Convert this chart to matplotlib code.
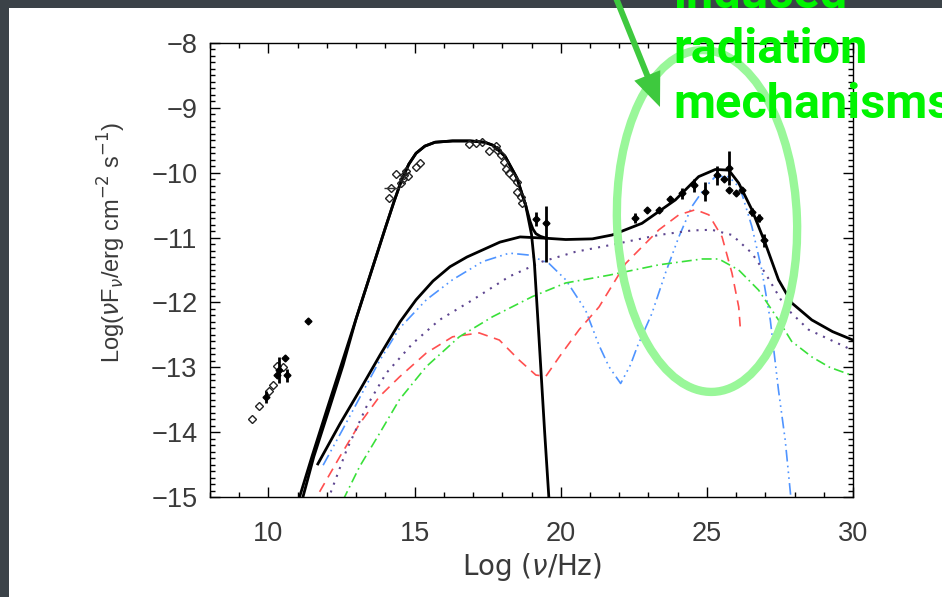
"""
SED plot with a highlighted high-energy bump (induced radiation mechanisms).
"""
import matplotlib
matplotlib.use("Agg")
import matplotlib.pyplot as plt
from matplotlib.patches import Ellipse, FancyArrow, Rectangle
from matplotlib.ticker import MultipleLocator

# ---- curves (log nu, log nuFnu) ----
# synchrotron component (the right one of the two close rising lines)
sync_x = [11.18, 11.55, 12.05, 12.55, 13.0, 13.5, 14.0, 14.3, 14.55, 14.8, 15.05, 15.35,
          15.7, 16.3, 16.9, 17.4, 17.7, 18.1, 18.5, 18.8, 19.0, 19.1, 19.25, 19.45, 19.6]
sync_y = [-15.0, -14.38, -13.68, -12.97, -12.25, -11.55, -10.85, -10.44, -10.12, -9.87,
          -9.70, -9.59, -9.53, -9.51, -9.51, -9.53, -9.58, -9.75, -10.08, -10.5, -10.95,
          -11.4, -12.5, -14.0, -15.05]

# total model: follows the synchrotron bump, then bends onto the IC plateau
total_x = [11.03, 11.5, 12.0, 12.5, 13.0, 13.5, 14.0, 14.3, 14.55, 14.8, 15.05, 15.35,
           15.7, 16.3, 16.9, 17.4, 17.7, 18.1, 18.5, 18.8, 18.95, 19.05, 19.15, 19.3, 19.5]
total_y = [-15.05, -14.36, -13.65, -12.95, -12.25, -11.55, -10.85, -10.44, -10.12, -9.87,
           -9.70, -9.59, -9.53, -9.51, -9.51, -9.53, -9.58, -9.75, -10.08, -10.5, -10.75,
           -10.87, -10.94, -10.98, -11.01]

# sum of the inverse-Compton type components
ic_x = [11.69, 12.45, 13.13, 13.82, 14.50, 15.05, 15.63, 16.21, 16.79, 17.92, 18.61, 19.49,
        20.17, 21.08, 21.76, 22.78, 23.92, 24.72, 25.29, 25.75, 26.09, 26.54, 27.0, 27.45,
        27.91, 28.59, 29.3, 30.0]
ic_y = [-14.49, -13.87, -13.35, -12.81, -12.30, -11.96, -11.67, -11.45, -11.30, -11.07,
        -10.99, -11.01, -11.03, -11.02, -10.96, -10.78, -10.42, -10.06, -9.95, -9.96, -10.16,
        -10.57, -11.09, -11.65, -12.01, -12.27, -12.45, -12.58]

blue_x = [11.87, 12.55, 13.12, 13.8, 14.48, 15.4, 16.3, 17.33, 18.24, 18.92, 19.6, 20.17,
          20.85, 21.31, 21.65, 22.05, 22.39, 22.62, 23.12, 23.58, 24.04, 24.49, 24.95, 25.29,
          25.75, 26.14, 26.54, 26.88, 27.17, 27.45, 27.68, 27.87]
blue_y = [-14.51, -13.95, -13.47, -12.90, -12.40, -11.96, -11.65, -11.37, -11.24, -11.27,
          -11.4, -11.65, -12.12, -12.66, -12.99, -13.25, -12.96, -12.68, -12.17, -11.55,
          -10.99, -10.52, -10.22, -10.06, -10.06, -10.24, -10.83, -11.5, -12.27, -13.35,
          -14.12, -14.99]

red_x = [11.75, 12.44, 13.12, 13.8, 14.48, 15.4, 16.3, 17.21, 17.9, 18.58, 19.15, 19.49,
         19.95, 20.63, 21.31, 22.22, 23.36, 24.04, 24.61, 25.07, 25.52, 25.86, 26.09, 26.14]
red_y = [-14.92, -14.38, -13.87, -13.45, -13.15, -12.78, -12.53, -12.47, -12.58, -12.89,
         -13.12, -13.14, -12.84, -12.42, -12.07, -11.40, -10.88, -10.65, -10.57, -10.65,
         -10.99, -11.55, -12.07, -12.37]

purple_x = [12.03, 12.67, 13.35, 14.03, 14.94, 15.85, 16.99, 18.24, 19.37, 20.5, 21.76,
            23.36, 24.49, 25.17, 25.86, 26.54, 27.0, 27.68, 28.48, 29.95]
purple_y = [-15.05, -14.28, -13.61, -13.09, -12.63, -12.27, -11.96, -11.6, -11.37, -11.22,
            -11.11, -10.96, -10.89, -10.88, -10.96, -11.24, -11.55, -12.07, -12.42, -12.73]

green_x = [12.55, 13.12, 13.8, 14.48, 15.4, 16.53, 17.67, 19.03, 20.17, 21.65, 23.36, 24.84,
           25.41, 26.09, 26.77, 27.45, 27.9, 28.59, 29.2, 30.0]
green_y = [-15.05, -14.53, -14.02, -13.5, -12.99, -12.53, -12.22, -11.91, -11.7, -11.58,
           -11.42, -11.33, -11.33, -11.5, -11.81, -12.27, -12.6, -12.84, -13.0, -13.13]

# ---- data points ----
radio_open_x = [9.42, 9.67, 10.02, 10.15, 10.30, 10.50]
radio_open_y = [-13.79, -13.60, -13.36, -13.27, -12.98, -12.99]
radio_x = [9.91, 10.30, 10.37, 10.56, 10.64, 11.36]
radio_y = [-13.46, -13.12, -13.04, -12.86, -13.12, -12.28]
radio_err = [0.09, 0.0, 0.2, 0.0, 0.1, 0.0]

opt_x = [14.14, 14.20, 14.35, 14.54, 14.60, 14.65, 14.71, 14.77, 15.05, 15.17, 16.87, 17.10,
         17.32, 17.56, 17.78, 17.83, 17.95, 18.07, 18.12, 18.24, 18.35, 18.52, 18.52, 18.63,
         18.69]
opt_y = [-10.39, -10.23, -10.02, -10.16, -10.09, -10.04, -9.98, -10.05, -9.91, -9.85, -9.56,
         -9.54, -9.52, -9.66, -9.59, -9.65, -9.73, -9.83, -9.95, -10.0, -10.06, -10.14, -10.29,
         -10.37, -10.47]
opt_bar_x = [14.20]
opt_bar_y = [-10.23]
opt_bar_xerr = [0.25]

xray_x = [19.15, 19.49]
xray_y = [-10.72, -10.78]
xray_lo = [0.10, 0.59]
xray_hi = [0.12, 0.26]

gam_x = [22.54, 22.96, 23.36, 23.75, 24.15, 24.55, 24.95, 25.35, 25.57, 25.75, 25.75, 25.98,
         26.20, 26.54, 26.77, 26.94]
gam_y = [-10.70, -10.57, -10.57, -10.41, -10.32, -10.19, -10.29, -10.04, -10.09, -9.93,
         -10.27, -10.32, -10.27, -10.60, -10.70, -11.04]
gam_err = [0.08, 0.0, 0.0, 0.05, 0.08, 0.1, 0.14, 0.15, 0.0, 0.26, 0.0, 0.0, 0.0, 0.06,
           0.06, 0.1]

x_ticks = [10, 15, 20, 25, 30]
y_ticks = [-8, -9, -10, -11, -12, -13, -14, -15]
annot_lines = ["induced", "radiation", "mechanisms"]

W, H = 942, 597
fig = plt.figure(figsize=(W / 100, H / 100), dpi=100)
fig.patch.set_facecolor("#3b4248")

# white panel behind everything, drawn on its own full-figure axes
bg = fig.add_axes([0, 0, 1, 1], zorder=-10)
bg.set_xlim(0, W)
bg.set_ylim(H, 0)
bg.axis("off")
bg.add_patch(Rectangle((9, 8), W, H, facecolor="white", edgecolor="none"))

# axes box: x 210..853 px, y 43..497 px
ax = fig.add_axes([210 / W, 1 - 497 / H, 643 / W, 454 / H], zorder=1)
ax.set_facecolor("white")

ink = "#3a3a3a"
ax.plot(blue_x, blue_y, color="#4f94ff", lw=1.2, dashes=(7, 2.5, 1, 2.5, 1, 2.5, 1, 2.5))
ax.plot(red_x, red_y, color="#ff4f4f", lw=1.2, dashes=(6, 4))
ax.plot(purple_x, purple_y, color="#5e4690", lw=1.5, dashes=(1, 3))
ax.plot(green_x, green_y, color="#39e039", lw=1.2, dashes=(6, 2.5, 1, 2.5))
ax.plot(ic_x, ic_y, color="black", lw=2)
ax.plot(sync_x, sync_y, color="black", lw=2)
ax.plot(total_x, total_y, color="black", lw=2)

mk = dict(marker="D", ms=4, mfc="none", mec="#222222", mew=1, ls="none")
ax.plot(radio_open_x, radio_open_y, **mk)
ax.plot(opt_x, opt_y, **mk)
ax.errorbar(opt_bar_x, opt_bar_y, xerr=opt_bar_xerr, fmt="none", ecolor="#333333", elinewidth=1)
ax.errorbar(radio_x, radio_y, yerr=radio_err, fmt="D", ms=3.5, color="black", elinewidth=2,
            capsize=0)
ax.errorbar(xray_x, xray_y, yerr=[xray_lo, xray_hi], fmt="D", ms=3.5, color="black",
            elinewidth=2, capsize=0)
ax.errorbar(gam_x, gam_y, yerr=gam_err, fmt="D", ms=3.5, color="black", elinewidth=2,
            capsize=0)

ax.set_xlim(8, 30)
ax.set_ylim(-15, -8)
ax.set_xticks(x_ticks)
ax.set_yticks(y_ticks)
ax.xaxis.set_minor_locator(MultipleLocator(1))
ax.yaxis.set_minor_locator(MultipleLocator(0.1))
ax.tick_params(which="both", direction="in", top=True, right=True, color="black",
               labelsize=19.5, labelcolor=ink)
ax.tick_params(which="major", length=7, width=1)
ax.tick_params(which="minor", length=3.6, width=1)
ax.tick_params(axis="x", pad=17)
ax.tick_params(axis="y", pad=9)
for t in ax.get_xticklabels() + ax.get_yticklabels():
    t.set_family("Liberation Sans")
for s in ax.spines.values():
    s.set_linewidth(1)

ax.set_xlabel(r"Log ($\nu$/Hz)", fontsize=20, color=ink, family="DejaVu Sans")
ax.set_ylabel(r"Log($\nu$F$_\nu$/erg cm$^{-2}$ s$^{-1}$)", fontsize=17, color=ink,
              family="Liberation Sans")
ax.xaxis.set_label_coords(0.5, -0.12)
ax.yaxis.set_label_coords(-0.128, 0.56)

# overlay in pixel coordinates for the annotation
ov = fig.add_axes([0, 0, 1, 1], zorder=5)
ov.set_xlim(0, W)
ov.set_ylim(H, 0)
ov.axis("off")
ov.patch.set_alpha(0)

ov.add_patch(Ellipse((707, 221), 180, 342, angle=-2, fill=False, edgecolor="#99f799", lw=6))
ov.add_patch(FancyArrow(612, -12, 48, 119, width=6, head_width=28, head_length=34,
                        length_includes_head=True, color="#3ec93e", lw=0))
for i, line in enumerate(annot_lines):
    ov.text(673, 8 + 55 * i, line, color="#00f400", fontsize=35, fontweight="bold",
            family="Roboto", va="baseline", ha="left", clip_on=False)

fig.savefig("out.png", dpi=100, facecolor=fig.get_facecolor())
